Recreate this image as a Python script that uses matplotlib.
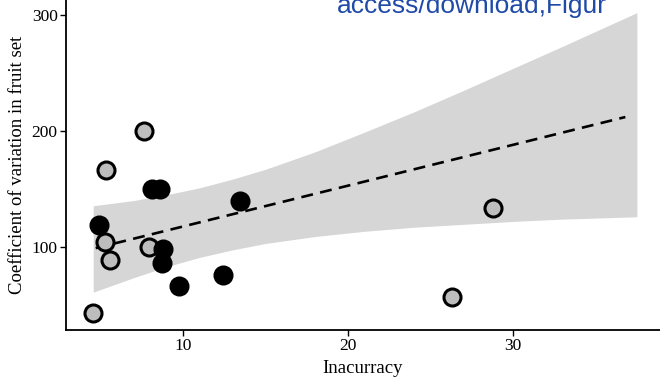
import numpy as np
import matplotlib.pyplot as plt

plt.rcParams['font.family'] = ['Liberation Serif', 'DejaVu Serif']

# observed sites: grey = one group, black = the other
grey_x = [4.55, 7.64, 5.33, 5.27, 5.58, 7.94, 26.3, 28.8]
grey_y = [43, 200, 166, 104, 89, 100, 57, 134]
black_x = [4.9, 8.1, 8.6, 8.8, 8.7, 9.75, 12.4, 13.45]
black_y = [119, 150, 150, 98, 86, 66, 76, 140]

# fitted line and its confidence band
fit_x = [4.7, 36.8]
fit_y = [99, 212]
band_x = [4.55, 7, 9, 11, 13, 15, 18, 21, 24, 27, 30, 33, 37.5]
band_hi = [135.5, 140, 145, 151, 158.5, 167, 182, 199, 216.5, 235, 254, 273, 302]
band_lo = [61, 73.5, 83, 91, 97.5, 103, 109, 113.5, 117, 119.5, 122, 124, 126]

fig = plt.figure(figsize=(6.6, 3.77), dpi=100)
ax = fig.add_axes([0.1, 0.1247, 0.9, 0.8753])

ax.fill_between(band_x, band_lo, band_hi, color='#d6d6d6', lw=0, zorder=1)
ax.plot(fit_x, fit_y, color='black', lw=1.9, ls=(0, (4.5, 2.8)), zorder=2)

ax.scatter(grey_x, grey_y, s=150, c='#bdbdbd', edgecolors='black',
           linewidths=2.2, zorder=3)
ax.scatter(black_x, black_y, s=150, c='black', edgecolors='black',
           linewidths=2.2, zorder=3)

ax.set_xlim(2.9, 38.9)
ax.set_ylim(28.4, 312.9)
ax.set_xticks([10, 20, 30])
ax.set_yticks([100, 200, 300])
ax.tick_params(labelsize=12.5, length=4, width=1, color='black', pad=2)

for side in ['top', 'right']:
    ax.spines[side].set_visible(False)
for side in ['left', 'bottom']:
    ax.spines[side].set_linewidth(1.3)

ax.set_xlabel('Inacurracy', fontsize=13.5, labelpad=4)
ax.set_ylabel('Coefficient of variation in fruit set', fontsize=13.5, labelpad=4)

fig.text(337 / 660, 1 - 13 / 377, 'access/download,Figur', color='#1f4aa8',
         fontsize=19, family='Liberation Sans', ha='left', va='baseline')

fig.savefig('out.png', dpi=100)
